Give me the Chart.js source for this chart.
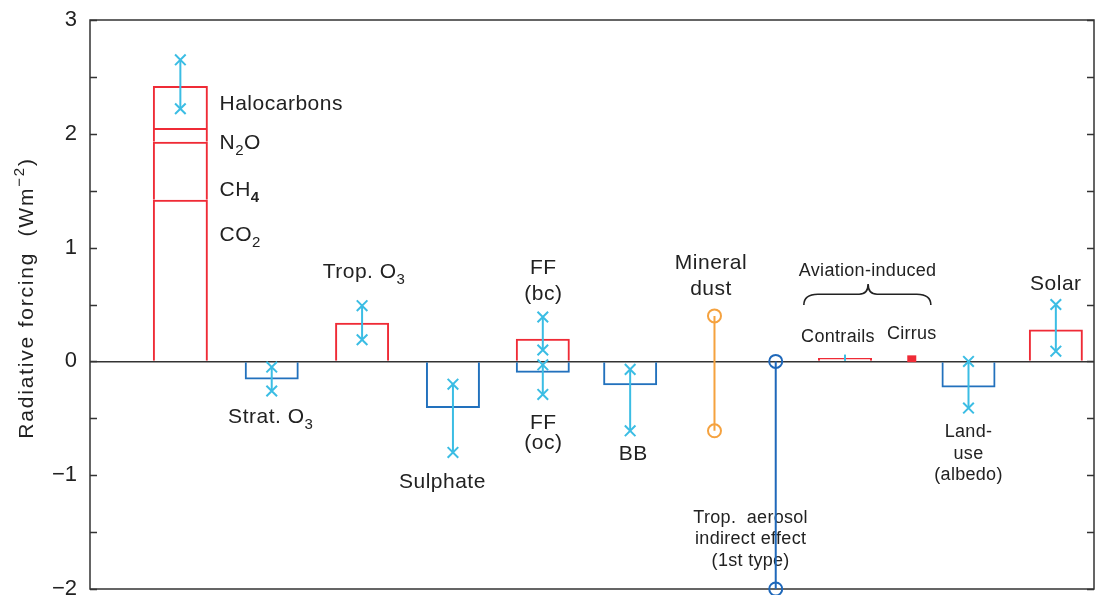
<!DOCTYPE html>
<html>
<head>
<meta charset="utf-8">
<script src="https://cdn.jsdelivr.net/npm/chart.js@4/dist/chart.umd.min.js"></script>
<style>
  html, body { margin: 0; padding: 0; background: #fff; }
  #wrap { width: 1096px; height: 595px; position: relative; }
</style>
</head>
<body>
<div id="wrap"><canvas id="forcing"></canvas></div>
<script>
// Well-mixed greenhouse gases, stacked from zero upward (W m-2)
const ghgNames = ['CO2', 'CH4', 'N2O', 'Halocarbons'];
const ghgForcing = [1.42, 0.51, 0.12, 0.37];
const ghgRange = [2.22, 2.65];

// Other agents: best estimate and uncertainty range (W m-2)
const agentNames = ['Strat. O3', 'Trop. O3', 'Sulphate', 'FF (bc)', 'FF (oc)', 'BB', 'Contrails', 'Land-use (albedo)', 'Solar'];
const agentForcing = [-0.16, 0.34, -0.41, 0.20, -0.10, -0.21, 0.03, -0.23, 0.28];
const agentLow = [-0.26, 0.19, -0.80, 0.10, -0.29, -0.61, 0.005, -0.41, 0.09];
const agentHigh = [-0.05, 0.49, -0.20, 0.39, -0.03, -0.07, 0.06, 0.00, 0.50];

// Agents given only as a range, without a best estimate
const rangeNames = ['Mineral dust', 'Trop. aerosol indirect effect (1st type)'];
const rangeLow = [-0.61, -2.0];
const rangeHigh = [0.40, 0.0];

// Aviation-induced cirrus range
const cirrusRange = [0.0, 0.04];

// Value axis
const yMin = -2, yMax = 3, yStep = 0.5;

// Horizontal slots of the columns on a 0-100 axis
const ghgSlot = 9.0;
const agentSlot = [18.1, 27.1, 36.15, 45.1, 45.1, 53.8, 75.2, 87.5, 96.2];
const rangeSlot = [62.2, 68.3];
const cirrusSlot = 81.85;

const FONT = '"Liberation Sans", Arial, Helvetica, sans-serif';
const INK = '#222';
const RED = '#ef2b36';
const BLUE = '#2271bd';
const CYAN = '#3bbde4';
const ORANGE = '#f5a23f';
const DEEPBLUE = '#1f68ba';

// Stacked greenhouse-gas column as floating segments
let acc = 0;
const ghgSegments = ghgForcing.map(v => {
  const seg = { x: ghgSlot, y: [acc, acc + v] };
  acc += v;
  return seg;
});

function uncertainty(x, lo, hi, label) {
  const short = (hi - lo) < 0.1;
  return {
    type: 'line', label,
    data: [{ x, y: lo }, { x, y: hi }],
    borderColor: CYAN, borderWidth: 2,
    pointStyle: 'crossRot', pointRadius: short ? 0 : 7.5,
    pointBorderColor: CYAN, pointBorderWidth: 2,
    pointBackgroundColor: CYAN,
    fill: false, tension: 0, clip: false
  };
}

const datasets = [];
datasets.push(uncertainty(ghgSlot, ghgRange[0], ghgRange[1], 'Greenhouse gases'));
agentNames.forEach((n, i) => datasets.push(uncertainty(agentSlot[i], agentLow[i], agentHigh[i], n)));

const rangeColors = [ORANGE, DEEPBLUE];
rangeNames.forEach((n, i) => datasets.push({
  type: 'line', label: n,
  data: [{ x: rangeSlot[i], y: rangeHigh[i] }, { x: rangeSlot[i], y: rangeLow[i] }],
  borderColor: rangeColors[i], borderWidth: 2,
  pointStyle: 'circle', pointRadius: 6.5, pointBorderWidth: 2,
  pointBorderColor: rangeColors[i], pointBackgroundColor: 'rgba(0,0,0,0)',
  fill: false, tension: 0, clip: false
}));

datasets.push({
  type: 'bar', label: 'Cirrus',
  data: [{ x: cirrusSlot, y: cirrusRange }],
  backgroundColor: RED, borderWidth: 0, barThickness: 6, inflateAmount: 1.5,
  grouped: false
});

datasets.push({
  type: 'bar', label: 'Agents',
  data: agentForcing.map((v, i) => ({ x: agentSlot[i], y: v })),
  backgroundColor: 'rgba(0,0,0,0)',
  borderColor: c => agentForcing[c.dataIndex] >= 0 ? RED : BLUE,
  borderWidth: 2, barThickness: 54, grouped: false, inflateAmount: 0
});

datasets.push({
  type: 'bar', label: 'Greenhouse gases',
  data: ghgSegments,
  backgroundColor: 'rgba(0,0,0,0)', borderColor: RED,
  borderWidth: 2, barThickness: 55, grouped: false, inflateAmount: 0
});

// Text with subscripts / superscripts, y given as the cap-height centre
function drawRich(ctx, parts, x, cy, size, align, spacing) {
  const fontFor = k => (k === 'subBold' ? 'bold ' : '') + (k ? Math.round(size * 0.72) : size) + 'px ' + FONT;
  ctx.letterSpacing = (spacing || 0) + 'px';
  let w = 0;
  for (const [t, k] of parts) { ctx.font = fontFor(k); w += ctx.measureText(t).width; }
  let cx = align === 'left' ? x : (align === 'right' ? x - w : x - w / 2);
  const base = cy + 0.358 * size;
  ctx.textAlign = 'left';
  ctx.textBaseline = 'alphabetic';
  for (const [t, k] of parts) {
    ctx.font = fontFor(k);
    const dy = k === 'sup' ? -size * 0.42 : (k && k.startsWith('sub') ? size * 0.28 : 0);
    ctx.fillText(t, cx, base + dy);
    cx += ctx.measureText(t).width;
  }
  ctx.letterSpacing = '0px';
}

const notes = [
  { parts: [['Halocarbons']], x: 12.9, y: 2.279, size: 21, align: 'left' },
  { parts: [['N'], ['2', 'sub'], ['O']], x: 12.9, y: 1.935, size: 21, align: 'left' },
  { parts: [['CH'], ['4', 'subBold']], x: 12.9, y: 1.52, size: 21, align: 'left' },
  { parts: [['CO'], ['2', 'sub']], x: 12.9, y: 1.127, size: 21, align: 'left' },
  { parts: [['Strat. O'], ['3', 'sub']], x: 18.0, y: -0.472, size: 21 },
  { parts: [['Trop. O'], ['3', 'sub']], x: 27.3, y: 0.80, size: 21 },
  { parts: [['Sulphate']], x: 35.1, y: -1.05, size: 21 },
  { parts: [['FF']], x: 45.15, y: 0.83, size: 21 },
  { parts: [['(bc)']], x: 45.15, y: 0.61, size: 21 },
  { parts: [['FF']], x: 45.15, y: -0.53, size: 21 },
  { parts: [['(oc)']], x: 45.15, y: -0.70, size: 21 },
  { parts: [['BB']], x: 54.1, y: -0.80, size: 21 },
  { parts: [['Mineral']], x: 61.85, y: 0.88, size: 21 },
  { parts: [['dust']], x: 61.85, y: 0.65, size: 21 },
  { parts: [['Trop.  aerosol']], x: 65.8, y: -1.36, size: 18 },
  { parts: [['indirect effect']], x: 65.8, y: -1.55, size: 18 },
  { parts: [['(1st type)']], x: 65.8, y: -1.74, size: 18 },
  { parts: [['Aviation-induced']], x: 77.45, y: 0.81, size: 18 },
  { parts: [['Contrails']], x: 74.5, y: 0.223, size: 18 },
  { parts: [['Cirrus']], x: 81.85, y: 0.25, size: 18 },
  { parts: [['Land-']], x: 87.5, y: -0.61, size: 18 },
  { parts: [['use']], x: 87.5, y: -0.80, size: 18 },
  { parts: [['(albedo)']], x: 87.5, y: -0.985, size: 18 },
  { parts: [['Solar']], x: 96.2, y: 0.69, size: 21 }
];

// Curly brace grouping the aviation-induced columns
const brace = { x0: 71.1, x1: 83.75, xm: 77.5, yEnd: 0.495, yArm: 0.59, yTip: 0.68 };

const decorations = {
  id: 'decorations',
  beforeDatasetsDraw(chart) {
    const { ctx, chartArea: a, scales: { x, y } } = chart;
    ctx.save();
    // frame
    ctx.strokeStyle = '#333';
    ctx.lineWidth = 1.5;
    ctx.strokeRect(a.left, a.top, a.right - a.left, a.bottom - a.top);
    // inward ticks on both sides
    ctx.lineWidth = 1.3;
    ctx.beginPath();
    y.ticks.forEach(t => {
      const py = Math.round(y.getPixelForValue(t.value)) + 0.5;
      ctx.moveTo(a.left, py); ctx.lineTo(a.left + 7, py);
      ctx.moveTo(a.right, py); ctx.lineTo(a.right - 7, py);
    });
    ctx.stroke();

    // labels
    ctx.fillStyle = INK;
    notes.forEach(n => {
      drawRich(ctx, n.parts, x.getPixelForValue(n.x), y.getPixelForValue(n.y),
        n.size, n.align || 'center', n.size > 19 ? 0.5 : 0.3);
    });

    // brace
    const bx0 = x.getPixelForValue(brace.x0), bx1 = x.getPixelForValue(brace.x1), bxm = x.getPixelForValue(brace.xm);
    const byE = y.getPixelForValue(brace.yEnd), byA = y.getPixelForValue(brace.yArm), byT = y.getPixelForValue(brace.yTip);
    ctx.strokeStyle = INK;
    ctx.lineWidth = 1.6;
    ctx.beginPath();
    ctx.moveTo(bx0, byE);
    ctx.quadraticCurveTo(bx0, byA, bx0 + 14, byA);
    ctx.lineTo(bxm - 9, byA);
    ctx.quadraticCurveTo(bxm, byA, bxm, byT);
    ctx.quadraticCurveTo(bxm, byA, bxm + 9, byA);
    ctx.lineTo(bx1 - 14, byA);
    ctx.quadraticCurveTo(bx1, byA, bx1, byE);
    ctx.stroke();

    // value-axis title
    ctx.translate(25, a.top + 278);
    ctx.rotate(-Math.PI / 2);
    drawRich(ctx, [['Radiative forcing  (Wm'], ['\u22122', 'sup'], [')']], 0, 0, 21, 'center', 1.8);
    ctx.restore();
  }
};

new Chart(document.getElementById('forcing'), {
  type: 'bar',
  data: { datasets },
  options: {
    responsive: true,
    maintainAspectRatio: false,
    animation: false,
    events: [],
    layout: { autoPadding: false, padding: { top: 20, right: 2, bottom: 6, left: 0 } },
    plugins: { legend: { display: false }, tooltip: { enabled: false } },
    scales: {
      x: { type: 'linear', min: 0, max: 100, offset: false, display: false },
      y: {
        type: 'linear', min: yMin, max: yMax,
        afterFit(s) { s.width = 90; s.paddingTop = 0; s.paddingBottom = 0; },
        border: { display: false },
        grid: {
          drawTicks: false,
          lineWidth: 1.5,
          color: c => (c.tick && c.tick.value === 0) ? '#333' : 'rgba(0,0,0,0)'
        },
        ticks: {
          stepSize: yStep, autoSkip: false, padding: 13,
          color: INK, font: { family: FONT, size: 22 },
          callback: v => Number.isInteger(v) ? (v < 0 ? '\u2212' + Math.abs(v) : String(v)) : ''
        }
      }
    }
  },
  plugins: [decorations]
});
</script>
</body>
</html>
